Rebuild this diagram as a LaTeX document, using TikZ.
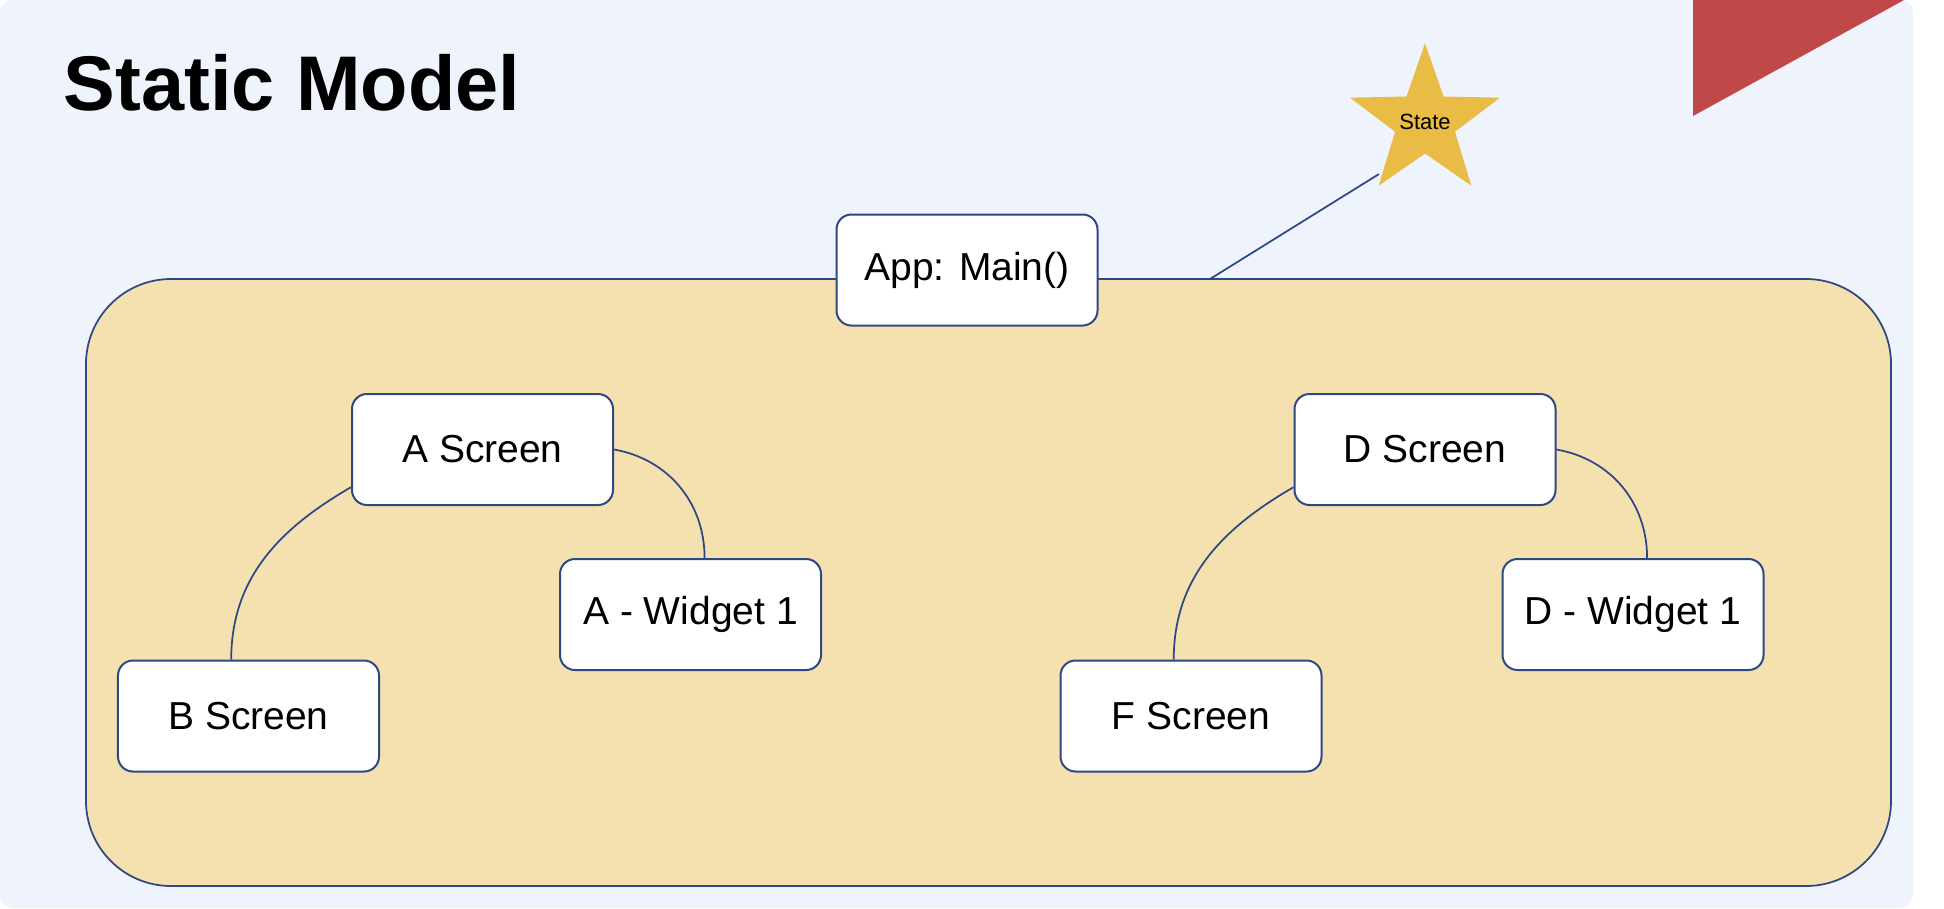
\documentclass[tikz,border=0pt]{standalone}
\usepackage{fontspec}
\setmainfont{Liberation Sans}
\usepackage{xcolor}
\usetikzlibrary{shapes.geometric, calc}

\definecolor{slidebg}{RGB}{239,243,251}
\definecolor{groupfill}{RGB}{245,224,176}
\definecolor{edgeblue}{RGB}{46,72,132}
\definecolor{stargold}{RGB}{233,188,69}
\definecolor{cornerred}{RGB}{192,72,72}

\begin{document}
\begin{tikzpicture}[x=0.4pt, y=0.4pt,
  box/.style={draw=edgeblue, line width=0.8pt, fill=white, rounded corners=6pt,
    minimum width=104.4pt, minimum height=44.4pt, inner sep=0pt,
    font=\fontsize{15.6}{18}\selectfont},
  link/.style={draw=edgeblue, line width=0.7pt}]
\useasboundingbox (0,0) rectangle (1944,-908);
\fill[white] (0,0) rectangle (1944,-908);
\fill[slidebg, rounded corners=5pt] (0,0) rectangle (1913,-908);
% corner flag
\fill[cornerred] (1693,0) -- (1904,0) -- (1693,-116) -- cycle;
\node[anchor=base west, font=\bfseries\fontsize{31}{36}\selectfont] (title) at (55,-110) {Static Model};
% group round the screens
\draw[edgeblue, line width=0.7pt, fill=groupfill, rounded corners=34pt] (86,-279) rectangle (1891,-886);
\node[box] (app) at (967,-270) {App: Main()};
% state star and its tie to the group
\node[star, star points=5, star point ratio=0.4, minimum size=25.2pt, inner sep=0pt,
  shape border rotate=180, fill=stargold, font=\fontsize{8.8}{10}\selectfont] (state) at (1425,-122) {State};
\coordinate (hook) at (1210,-279);
\draw[link] ($(state.center)+(-46,-52)$) -- (hook);
% two screen trees
\foreach \parentname/\childname/\widgetname/\dx [count=\k] in
    {A Screen/B Screen/A - Widget 1/0, D Screen/F Screen/D - Widget 1/942.5} {
  \node[box] (scr\k) at (482.5+\dx,-449.5) {\parentname};
  \node[box] (kid\k) at (248.5+\dx,-716) {\childname};
  \node[box] (wid\k) at (690.5+\dx,-614.5) {\widgetname};
  \draw[link] (scr\k.196) to[out=210, in=90] (kid\k.107);
  \draw[link] (scr\k.east) to[out=-10, in=90] (wid\k.76);
}
\end{tikzpicture}
\end{document}
